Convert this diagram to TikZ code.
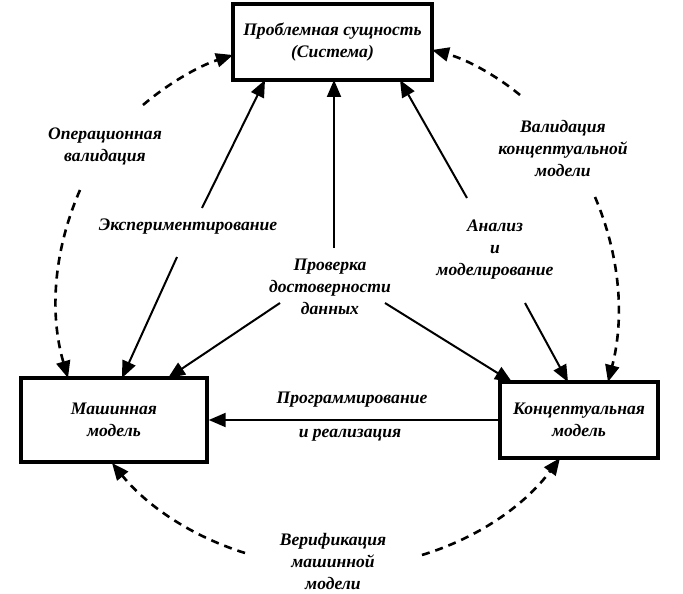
\documentclass[tikz,border=0pt]{standalone}
\usepackage{fontspec}
\setmainfont{Liberation Serif}
\usetikzlibrary{arrows.meta}
\begin{document}
\begin{tikzpicture}[x=1pt,y=-1pt,
  box/.style={draw, line width=3.4pt, align=center, inner sep=0pt},
  lbl/.style={align=center, inner sep=1pt, font=\fontsize{17.6}{22}\selectfont\bfseries\itshape},
  arr/.style={line width=2pt, -{Triangle[length=17pt,width=14pt]}},
  darr/.style={line width=2.6pt, dash pattern=on 8pt off 6pt, -{Triangle[length=17pt,width=14pt]}}]
\useasboundingbox (0,0) rectangle (683,594);
% boxes
\node[box, lbl, minimum width=199pt, minimum height=76pt] (top) at (332.5,42) {Проблемная сущность\\(Система)};
\node[box, lbl, minimum width=186pt, minimum height=84pt] (mm) at (114,420) {Машинная\\модель};
\node[box, lbl, minimum width=158pt, minimum height=76pt] (cm) at (579,420) {Концептуальная\\модель};
% labels
\node[lbl] (opval) at (105,146) {Операционная\\валидация};
\node[lbl] (exper) at (188,227) {Экспериментирование};
\node[lbl] (prov) at (330,287) {Проверка\\достоверности\\данных};
\node[lbl] (anal) at (495,250) {Анализ\\и\\моделирование};
\node[lbl] (valid) at (563,148) {Валидация\\концептуальной\\модели};
\node[lbl] (prog1) at (352,400) {Программирование};
\node[lbl] (prog2) at (350,435) {и реализация};
\node[lbl] (verif) at (333,561) {Верификация\\машинной\\модели};
% solid connector ends
\coordinate (s1) at (202,208); \coordinate (t1) at (265,80);
\coordinate (s2) at (177,257); \coordinate (t2) at (122,378);
\coordinate (s3) at (334,248); \coordinate (t3) at (334,80);
\coordinate (s4) at (280,303); \coordinate (t4) at (168,378);
\coordinate (s5) at (385,303); \coordinate (t5) at (512,382);
\coordinate (s6) at (467,198); \coordinate (t6) at (400,80);
\coordinate (s7) at (525,303); \coordinate (t7) at (568,382);
\draw[arr] (s1) -- (t1);
\draw[arr] (s2) -- (t2);
\draw[arr] (s3) -- (t3);
\draw[arr] (s4) -- (t4);
\draw[arr] (s5) -- (t5);
\draw[arr] (s6) -- (t6);
\draw[arr] (s7) -- (t7);
\draw[arr] (cm.west) -- (mm.east);
% dashed connector ends
\coordinate (dA) at (143,105); \coordinate (dAe) at (233,55);
\coordinate (dB) at (80,190);  \coordinate (dBe) at (68,378);
\coordinate (dC) at (245,553); \coordinate (dCe) at (112,463);
\coordinate (dD) at (422,555); \coordinate (dDe) at (560,458);
\coordinate (dE) at (595,197); \coordinate (dEe) at (608,382);
\coordinate (dF) at (520,95);  \coordinate (dFe) at (432,50);
\draw[darr] (dA) .. controls (169.7,82.3) and (199.7,65.7) .. (dAe);
\draw[darr] (dB) .. controls (53.3,251.3) and (49.3,314) .. (dBe);
\draw[darr] (dC) .. controls (191.7,536.3) and (147.3,506.3) .. (dCe);
\draw[darr] (dD) .. controls (478.7,537.7) and (524.7,505.3) .. (dDe);
\draw[darr] (dE) .. controls (620.3,256.3) and (624.7,318) .. (dEe);
\draw[darr] (dF) .. controls (494,73.7) and (464.7,58.7) .. (dFe);
\end{tikzpicture}
\end{document}
